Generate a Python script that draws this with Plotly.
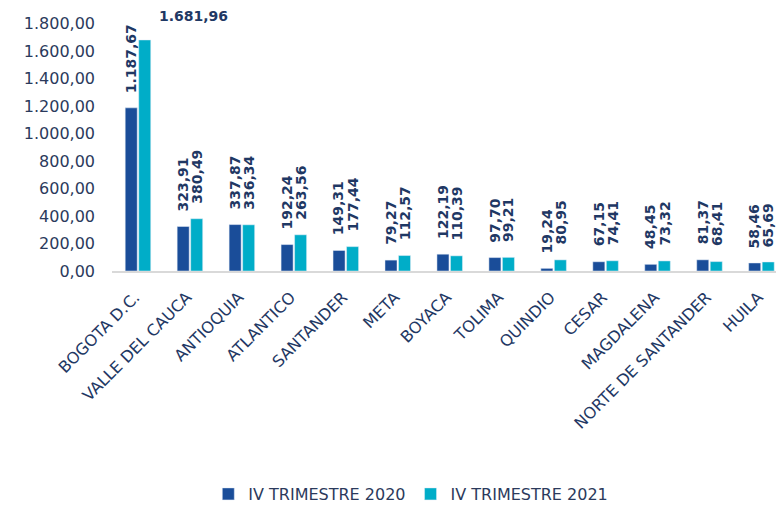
import plotly.graph_objects as go

# Departamentos y valores (IV trimestre)
departamentos = ["BOGOTA D.C.", "VALLE DEL CAUCA", "ANTIOQUIA", "ATLANTICO", "SANTANDER",
                 "META", "BOYACA", "TOLIMA", "QUINDIO", "CESAR", "MAGDALENA",
                 "NORTE DE SANTANDER", "HUILA"]
trim_2020 = [1187.67, 323.91, 337.87, 192.24, 149.31, 79.27, 122.19, 97.70, 19.24,
             67.15, 48.45, 81.37, 58.46]
trim_2021 = [1681.96, 380.49, 336.34, 263.56, 177.44, 112.57, 110.39, 99.21, 80.95,
             74.41, 73.32, 68.41, 65.69]
y_ticks = [0, 200, 400, 600, 800, 1000, 1200, 1400, 1600, 1800]

COLOR_2020 = "#1A4D99"
COLOR_2021 = "#00ADC8"
NAVY = "#1F3864"
TICK = "#2B3A5C"
FONT = "DejaVu Sans"


def fmt(v):
    # formato 1.234,56
    s = f"{v:,.2f}"
    return s.replace(",", "X").replace(".", ",").replace("X", ".")


fig = go.Figure()
fig.add_trace(go.Bar(x=departamentos, y=trim_2020, name="IV TRIMESTRE 2020",
                     marker_color=COLOR_2020))
fig.add_trace(go.Bar(x=departamentos, y=trim_2021, name="IV TRIMESTRE 2021",
                     marker_color=COLOR_2021))

# etiquetas de valor verticales sobre cada barra
for i, dep in enumerate(departamentos):
    for vals, dx in ((trim_2020, -7), (trim_2021, 7)):
        if i == 0 and vals is trim_2021:
            continue
        fig.add_annotation(x=dep, y=vals[i], text=fmt(vals[i]), textangle=-90,
                           showarrow=False, xanchor="center", yanchor="bottom",
                           xshift=dx, yshift=13,
                           font=dict(family=FONT, size=14, color=NAVY, weight="bold"))

# etiqueta horizontal de Bogotá 2021
fig.add_annotation(x=departamentos[0], y=trim_2021[0], text=fmt(trim_2021[0]),
                   showarrow=False, xanchor="left", yanchor="middle",
                   xshift=19, yshift=24,
                   font=dict(family=FONT, size=14, color=NAVY, weight="bold"))

# el body de la página tiene 8 px de margen: figura de 768x503 sin barras de desplazamiento
fig.update_layout(
    width=768, height=503,
    margin=dict(l=104, r=0, t=2, b=232),
    paper_bgcolor="white", plot_bgcolor="white",
    barmode="group", bargap=0.48, bargroupgap=0.11,
    separators=",.",
    font=dict(family=FONT, color=TICK),
    showlegend=True,
    legend=dict(orientation="h", x=0.45, xanchor="center", y=-0.855, yanchor="middle",
                font=dict(family=FONT, size=16, color=TICK), itemwidth=30,
                traceorder="normal"),
)
fig.update_xaxes(range=[-0.5, 12.28], tickangle=-45, showline=True, linecolor="#D9D9D9",
                 linewidth=1.5, ticks="", showgrid=False, automargin=False,
                 ticklabelstandoff=9, ticklabelshift=-3,
                 tickfont=dict(family=FONT, size=16, color=NAVY))
fig.update_yaxes(range=[0, 1900], tickvals=y_ticks, tickformat=",.2f", showgrid=False,
                 zeroline=False, showline=False, ticks="", automargin=False,
                 ticklabelstandoff=16,
                 tickfont=dict(family=FONT, size=16, color=TICK))

fig.write_html("out.html")
